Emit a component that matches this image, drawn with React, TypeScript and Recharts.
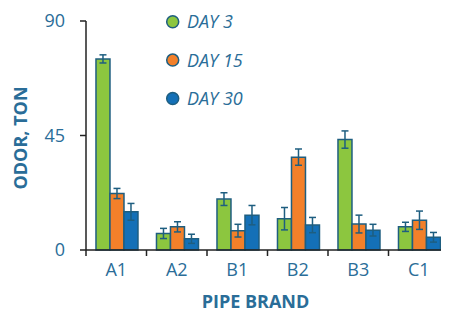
import React from 'react';
import { BarChart, Bar, XAxis, YAxis, ErrorBar } from 'recharts';

const categories = ['A1', 'A2', 'B1', 'B2', 'B3', 'C1'];
const day3 = [75.1, 6.5, 20.0, 12.3, 43.4, 9.1];
const day3Err = [1.6, 2.0, 2.5, 4.4, 3.4, 1.8];
const day15 = [22.2, 9.1, 7.6, 36.5, 10.2, 11.7];
const day15Err = [2.0, 2.0, 2.5, 3.2, 3.5, 3.6];
const day30 = [15.0, 4.4, 13.7, 9.8, 7.8, 5.0];
const day30Err = [3.3, 1.8, 3.8, 3.0, 2.3, 1.9];
const seriesNames = ['DAY 3', 'DAY 15', 'DAY 30'];
const yTicks = [0, 45, 90];

const data = categories.map((c, i) => ({
  name: c,
  d3: day3[i],
  e3: day3Err[i],
  d15: day15[i],
  e15: day15Err[i],
  d30: day30[i],
  e30: day30Err[i],
}));

const TEXT = '#2a6d98';
const OUTLINE = '#1e5e80';
const AXIS = '#222';
const COLORS = ['#8cc63f', '#f3802a', '#1470b7'];
const FONT = '"Open Sans", sans-serif';

const W = 441;
const H = 304;
const LEFT = 78;
const BAND = (W - LEFT) / categories.length;

const XTick = (props: any) => {
  const { x, y, payload } = props;
  return (
    <g>
      <line x1={x - BAND / 2} x2={x - BAND / 2} y1={y} y2={y + 6} stroke={AXIS} strokeWidth={1.5} />
      <text x={x} y={y + 26} textAnchor="middle" fill={TEXT} fontSize={18} fontFamily={FONT}>
        {payload.value}
      </text>
    </g>
  );
};

const LegendBox = () => (
  <svg width={140} height={110} style={{ position: 'absolute', left: 155, top: 0 }}>
    {seriesNames.map((n, i) => (
      <g key={n}>
        <circle cx={9.7} cy={13.7 + i * 38.4} r={6} fill={COLORS[i]} stroke={OUTLINE} strokeWidth={1.5} />
        <text
          x={24}
          y={13.7 + i * 38.4 + 6.5}
          fill={TEXT}
          fontSize={18}
          fontStyle="italic"
          fontFamily={FONT}
        >
          {n}
        </text>
      </g>
    ))}
  </svg>
);

export default function App() {
  return (
    <div style={{ position: 'relative', width: W, height: H }}>
      <BarChart
        width={W}
        height={H}
        data={data}
        margin={{ top: 13, right: 0, left: 0, bottom: 0 }}
        barCategoryGap="16.5%"
        barGap={0}
      >
        <XAxis
          dataKey="name"
          height={62}
          tickSize={0}
          tickMargin={0}
          tickLine={false}
          stroke={AXIS}
          strokeWidth={1.5}
          tick={<XTick />}
          interval={0}
          label={(p: any) => {
            const vb = p.viewBox;
            return (
              <text
                x={vb.x + vb.width / 2 - 12}
                y={300}
                textAnchor="middle"
                fill={TEXT}
                fontSize={18}
                fontWeight="bold"
                fontFamily={FONT}
              >
                PIPE BRAND
              </text>
            );
          }}
        />
        <YAxis
          width={LEFT}
          domain={[0, 90]}
          ticks={yTicks}
          interval={0}
          stroke={AXIS}
          strokeWidth={1.5}
          tickSize={6}
          tickMargin={15}
          tick={{ fill: TEXT, fontSize: 18, fontFamily: FONT }}
          label={() => (
            <text
              transform="translate(19,130) rotate(-90)"
              textAnchor="middle"
              fill={TEXT}
              fontSize={18}
              fontWeight="bold"
              fontFamily={FONT}
            >
              ODOR, TON
            </text>
          )}
        />
        <Bar dataKey="d3" name={seriesNames[0]} fill={COLORS[0]} stroke={OUTLINE} strokeWidth={1.5} isAnimationActive={false}>
          <ErrorBar dataKey="e3" width={3.5} stroke={OUTLINE} strokeWidth={1.5} />
        </Bar>
        <Bar dataKey="d15" name={seriesNames[1]} fill={COLORS[1]} stroke={OUTLINE} strokeWidth={1.5} isAnimationActive={false}>
          <ErrorBar dataKey="e15" width={3.5} stroke={OUTLINE} strokeWidth={1.5} />
        </Bar>
        <Bar dataKey="d30" name={seriesNames[2]} fill={COLORS[2]} stroke={OUTLINE} strokeWidth={1.5} isAnimationActive={false}>
          <ErrorBar dataKey="e30" width={3.5} stroke={OUTLINE} strokeWidth={1.5} />
        </Bar>
      </BarChart>
      <LegendBox />
    </div>
  );
}
